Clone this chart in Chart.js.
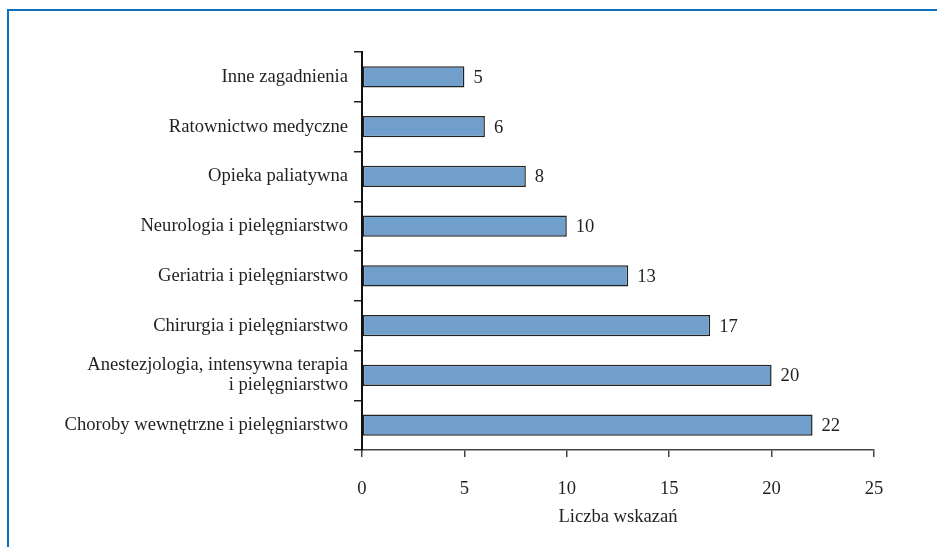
<!DOCTYPE html>
<html>
<head>
<meta charset="utf-8">
<style>
  html, body { margin: 0; padding: 0; background: #fff; }
  #wrap { position: relative; width: 937px; height: 547px; overflow: hidden; }
  #frame {
    position: absolute; left: 7px; top: 9px; right: -10px; bottom: -10px;
    border-left: 2px solid #0a6fbd; border-top: 2px solid #0a6fbd;
  }
  canvas { position: absolute; left: 0; top: 0; }
</style>
<script src="https://cdn.jsdelivr.net/npm/chart.js@4/dist/chart.umd.min.js"></script>
</head>
<body>
<div id="wrap">
  <div id="frame"></div>
  <canvas id="chart" width="937" height="547"></canvas>
</div>
<script>
const categories = [
  'Inne zagadnienia',
  'Ratownictwo medyczne',
  'Opieka paliatywna',
  'Neurologia i pielęgniarstwo',
  'Geriatria i pielęgniarstwo',
  'Chirurgia i pielęgniarstwo',
  ['Anestezjologia, intensywna terapia', 'i pielęgniarstwo'],
  'Choroby wewnętrzne i pielęgniarstwo',
];
const counts = [5, 6, 8, 10, 13, 17, 20, 22];
const xTicks = [0, 5, 10, 15, 20, 25];
const axisTitle = 'Liczba wskazań';

const textColor = '#231f20';
const fontFamily = '"Liberation Serif", "Times New Roman", serif';
const fontSize = 18.6;

// value labels next to the bar ends
const valueLabels = {
  id: 'valueLabels',
  afterDatasetsDraw(chart) {
    const { ctx } = chart;
    const meta = chart.getDatasetMeta(0);
    ctx.save();
    ctx.font = fontSize + 'px ' + fontFamily;
    ctx.fillStyle = textColor;
    ctx.textAlign = 'left';
    ctx.textBaseline = 'middle';
    meta.data.forEach((bar, i) => {
      ctx.fillText(String(counts[i]), bar.x + 9, bar.y + 1);
    });
    ctx.restore();
  },
};

new Chart(document.getElementById('chart'), {
  type: 'bar',
  data: {
    labels: categories,
    datasets: [{
      data: counts,
      backgroundColor: '#6f9fca',
      borderColor: '#222',
      borderWidth: 1.5,
      borderSkipped: false,
      barPercentage: 0.5,
      categoryPercentage: 0.85,
    }],
  },
  options: {
    indexAxis: 'y',
    responsive: false,
    animation: false,
    layout: { padding: { left: 10, right: 63, top: 52, bottom: 19 } },
    plugins: {
      legend: { display: false },
      tooltip: { enabled: false },
    },
    scales: {
      x: {
        min: 0,
        max: 25,
        afterBuildTicks(scale) {
          scale.ticks = xTicks.map((v) => ({ value: v }));
        },
        afterFit(scale) {
          scale.height = 78;
        },
        grid: {
          drawOnChartArea: false,
          drawTicks: true,
          tickLength: 7,
          color: '#444',
          lineWidth: 1.5,
        },
        border: { display: true, color: '#444', width: 1.5 },
        ticks: {
          color: textColor,
          font: { family: fontFamily, size: fontSize },
          padding: 21,
          maxRotation: 0,
        },
        title: {
          display: true,
          text: axisTitle,
          color: textColor,
          font: { family: fontFamily, size: fontSize },
          padding: { top: 0, bottom: 0 },
        },
      },
      y: {
        afterFit(scale) {
          scale.width = 352;
        },
        grid: {
          offset: true,
          drawOnChartArea: false,
          drawTicks: true,
          tickLength: 8,
          color: '#222',
          lineWidth: 1.5,
        },
        border: { display: true, color: '#111', width: 2 },
        ticks: {
          color: textColor,
          font: { family: fontFamily, size: fontSize, lineHeight: 1.07 },
          padding: 6,
        },
      },
    },
  },
  plugins: [valueLabels],
});
</script>
</body>
</html>
